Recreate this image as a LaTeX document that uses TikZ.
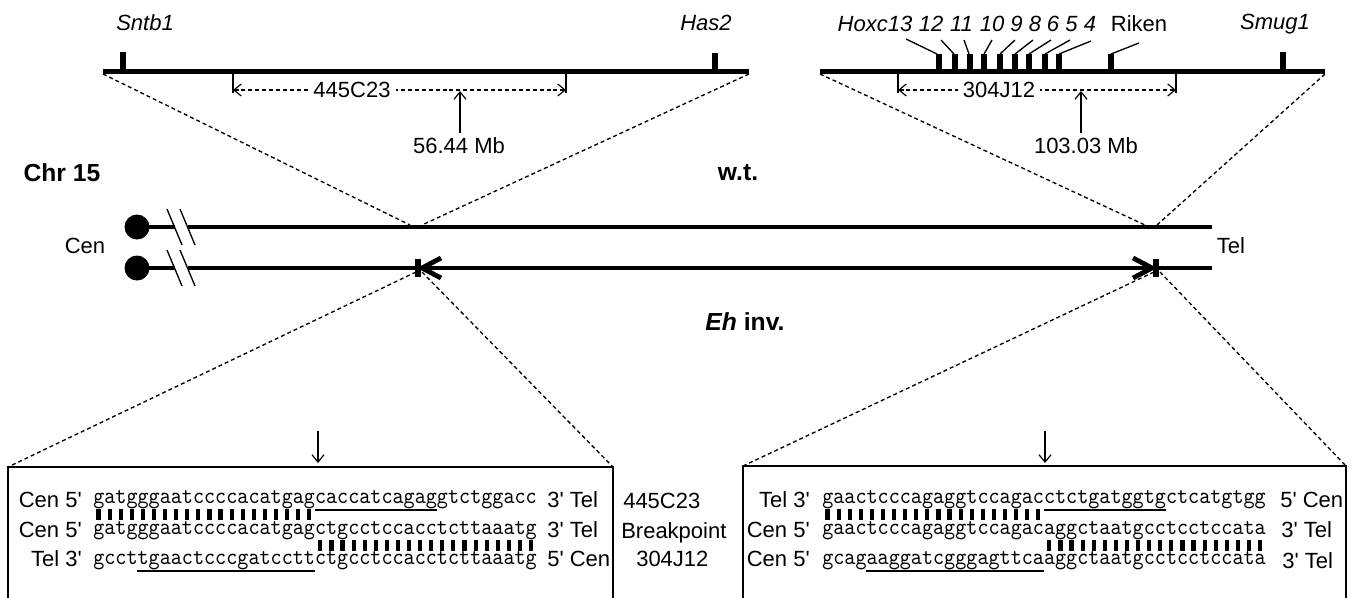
\documentclass[tikz,border=0pt]{standalone}
\usepackage{fontspec}
\setmainfont{Liberation Sans}
\newfontfamily\seqfont{lmmono10-regular.otf}[FakeStretch=0.9]
\usetikzlibrary{arrows.meta}
\newcommand{\qq}{\textquotesingle}
\begin{document}
\begin{tikzpicture}[x=0.75pt,y=-0.75pt,
  mapline/.style={line width=3.75pt},
  genetick/.style={line width=4.8pt},
  chromline/.style={line width=3.5pt},
  dashln/.style={line width=1pt, dash pattern=on 3pt off 2.2pt},
  fineln/.style={line width=1pt},
  boxln/.style={line width=1.1pt},
  barbs/.style={-{Straight Barb[length=5.5pt,width=9pt,line width=0.9pt]}},
  dbarbs/.style={{Straight Barb[length=5.5pt,width=9pt,line width=0.9pt]}-{Straight Barb[length=5.5pt,width=9pt,line width=0.9pt]}},
  lbl/.style={inner sep=0pt, font=\fontsize{16.5}{19}\selectfont},
  gene/.style={inner sep=0pt, font=\fontsize{16.5}{19}\selectfont\itshape},
  bigb/.style={inner sep=0pt, font=\fontsize{18.5}{22}\selectfont\bfseries},
  seq/.style={inner sep=0pt, anchor=base west, font=\fontsize{17.6}{20}\seqfont},
  pairbar/.style={line width=3.1pt},
  uline/.style={line width=1.1pt},
  thickhead/.style={line width=3.6pt},
]
\useasboundingbox (0,0) rectangle (1355,597);

% ---------- top left map ----------
\coordinate (LA) at (103,71);
\coordinate (LB) at (749,71);
\draw[mapline] (LA) -- (LB);
\draw[genetick] (123,71) -- (123,52);
\draw[genetick] (715,71) -- (715,53);
\node[gene] (sntb) at (145,23) {Sntb1};
\node[gene] (has) at (706,23) {Has2};
\coordinate (BL1) at (233,90);
\coordinate (BL2) at (566,90);
\draw[fineln] (233,71) -- (233,93);
\draw[fineln] (566,71) -- (566,93);
\draw[dashln,dbarbs] (BL1) -- (BL2);
\node[lbl, fill=white, inner xsep=4pt, inner ysep=1pt] (c445) at (352,90) {445C23};
\node[lbl] (mb1) at (459,146) {56.44 Mb};
\draw[fineln,barbs] (460,133) -- (460,91);

% ---------- top right map ----------
\coordinate (RA) at (820,71);
\coordinate (RB) at (1325,71);
\draw[mapline] (RA) -- (RB);
\foreach \x in {939,955,970,984,1000,1015,1029,1045,1059,1111}
  \draw[genetick] (\x,71) -- (\x,54);
\draw[genetick] (1283,71) -- (1283,52);
\node[gene] (hox13) at (875,24) {Hoxc13};
\node[gene] (h12) at (931,24) {12};
\node[gene] (h11) at (961.5,24) {11};
\node[gene] (h10) at (992,24) {10};
\node[gene] (h9) at (1016.6,24) {9};
\node[gene] (h8) at (1035,24) {8};
\node[gene] (h6) at (1053,24) {6};
\node[gene] (h5) at (1071.5,24) {5};
\node[gene] (h4) at (1090,24) {4};
\node[lbl] (riken) at (1139,24) {Riken};
\node[gene] (smug) at (1275,24) {Smug1};
\draw[fineln] (906,39) -- (937,54);
\draw[fineln] (941,40) -- (954,54);
\draw[fineln] (964,40) -- (969,54);
\draw[fineln] (992,40) -- (984,54);
\draw[fineln] (1015,40) -- (1000,54);
\draw[fineln] (1033,40) -- (1015,54);
\draw[fineln] (1051,40) -- (1029,54);
\draw[fineln] (1070,40) -- (1045,54);
\draw[fineln] (1091,41) -- (1059,54);
\draw[fineln] (1139,43) -- (1111,54);
\coordinate (BR1) at (898,90);
\coordinate (BR2) at (1176,90);
\draw[fineln] (898,71) -- (898,93);
\draw[fineln] (1176,71) -- (1176,93);
\draw[dashln,dbarbs] (BR1) -- (BR2);
\node[lbl, fill=white, inner xsep=4pt, inner ysep=1pt] (c304) at (999,90) {304J12};
\node[lbl] (mb2) at (1086,146) {103.03 Mb};
\draw[fineln,barbs] (1081,133) -- (1081,91);

% ---------- titles ----------
\node[bigb] (chr) at (62,173) {Chr 15};
\node[bigb] (wt) at (738,173) {w.t.};
\node[bigb] (eh) at (745,322) {\itshape Eh\upshape{} inv.};
\node[lbl] (cen) at (85,246) {Cen};
\node[lbl] (tel) at (1231,246) {Tel};

% ---------- chromosomes ----------
\fill (137,227) circle (12.5);
\fill (137,268) circle (12.5);
\draw[chromline] (137,227) -- (175,227);
\draw[chromline] (188,227) -- (1212,227);
\draw[chromline] (137,268) -- (175,268);
\draw[chromline] (188,268) -- (1212,268);
\draw[fineln] (167,209) -- (182,245);
\draw[fineln] (180,209) -- (195,245);
\draw[fineln] (167,250) -- (182,286);
\draw[fineln] (180,250) -- (195,286);
% inversion arrows
\draw[line width=4pt] (418,259) -- (418,277);
\draw[thickhead] (441,258) -- (422,268) -- (441,278);
\draw[line width=4pt] (1156,259) -- (1156,277);
\draw[thickhead] (1133,258) -- (1152,268) -- (1133,278);

% ---------- dashed zoom lines ----------
\draw[dashln] (103,74) -- (410,225);
\draw[dashln] (749,74) -- (422,225);
\draw[dashln] (820,74) -- (1145,225);
\draw[dashln] (1325,74) -- (1157,225);
\coordinate (LBoxTL) at (8,467);
\coordinate (LBoxTR) at (613,467);
\coordinate (RBoxTL) at (743,466);
\coordinate (RBoxTR) at (1346,466);
\draw[dashln] (416,272) -- (LBoxTL);
\draw[dashln] (422,272) -- (LBoxTR);
\draw[dashln] (1154,272) -- (RBoxTL);
\draw[dashln] (1160,272) -- (RBoxTR);

% ---------- boxes ----------
\draw[boxln] (8,598) -- (LBoxTL) -- (LBoxTR) -- (613,598);
\draw[boxln] (743,598) -- (RBoxTL) -- (RBoxTR) -- (1346,598);
\draw[fineln,barbs] (318,431) -- (318,463);
\draw[fineln,barbs] (1045,431) -- (1045,463);

% ---------- left sequences ----------
\def\cw{11.09}
\node[seq] (ls1) at (93,503) {gatgggaatccccacatgagcaccatcagaggtctggacc};
\node[seq] (ls2) at (93,534) {gatgggaatccccacatgagctgcctccacctcttaaatg};
\node[seq] (ls3) at (93,564) {gccttgaactcccgatccttctgcctccacctcttaaatg};
\node[lbl, anchor=base east] at (82,507) {Cen 5\qq};
\node[lbl, anchor=base east] at (82,537) {Cen 5\qq};
\node[lbl, anchor=base east] at (82,566) {Tel 3\qq};
\node[lbl, anchor=base west] at (547,507) {3\qq{} Tel};
\node[lbl, anchor=base west] at (547,537) {3\qq{} Tel};
\node[lbl, anchor=base west] at (547,566) {5\qq{} Cen};
\foreach \i in {1,...,20} \draw[pairbar] ({93+(\i-0.5)*\cw},509) -- ++(0,11);
\foreach \i in {21,...,40} \draw[pairbar] ({93+(\i-0.5)*\cw},540) -- ++(0,11);
\draw[uline] ({93+20*\cw},510) -- ({93+31*\cw},510);
\draw[uline] ({93+4*\cw},571) -- ({93+20*\cw},571);

% ---------- middle ----------
\node[lbl, anchor=base west] (m1) at (623,508) {445C23};
\node[lbl, anchor=base west] (m2) at (621,538) {Breakpoint};
\node[lbl, anchor=base west] (m3) at (636,566) {304J12};

% ---------- right sequences ----------
\node[seq] (rs1) at (822,503) {gaactcccagaggtccagacctctgatggtgctcatgtgg};
\node[seq] (rs2) at (822,534) {gaactcccagaggtccagacaggctaatgcctcctccata};
\node[seq] (rs3) at (822,564) {gcagaaggatcgggagttcaaggctaatgcctcctccata};
\node[lbl, anchor=base east] at (810,507) {Tel 3\qq};
\node[lbl, anchor=base east] at (810,537) {Cen 5\qq};
\node[lbl, anchor=base east] at (810,566) {Cen 5\qq};
\node[lbl, anchor=base west] at (1280,507) {5\qq{} Cen};
\node[lbl, anchor=base west] at (1281,537) {3\qq{} Tel};
\node[lbl, anchor=base west] at (1282,568) {3\qq{} Tel};
\foreach \i in {1,...,20} \draw[pairbar] ({822+(\i-0.5)*\cw},509) -- ++(0,11);
\foreach \i in {21,...,40} \draw[pairbar] ({822+(\i-0.5)*\cw},540) -- ++(0,11);
\draw[uline] ({822+20*\cw},510) -- ({822+31*\cw},510);
\draw[uline] ({822+4*\cw},571) -- ({822+20*\cw},571);
\end{tikzpicture}
\end{document}
